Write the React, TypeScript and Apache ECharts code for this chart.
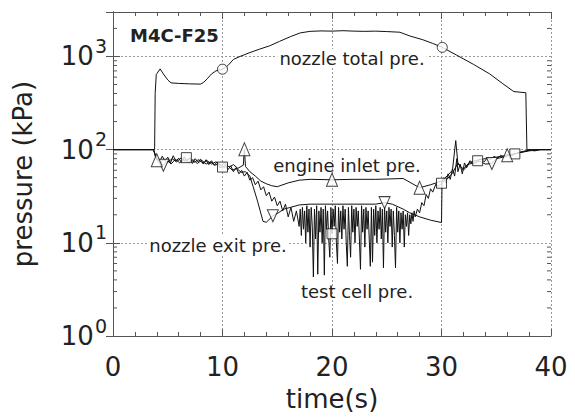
import React, { useEffect, useRef } from "react";
import * as echarts from "echarts";

// Time histories, [time (s), pressure (kPa)]
const nozzleTotal: number[][] = [
  [0, 100], [3.8, 100], [3.85, 400], [3.95, 640], [4.3, 735], [4.6, 650], [5.0, 560],
  [5.3, 520], [6, 514], [7, 508], [8, 505], [8.3, 530], [8.6, 575], [9.0, 650],
  [9.4, 700], [10.0, 730], [10.5, 800], [11.0, 930], [11.6, 1000], [12.5, 1100],
  [13.4, 1200], [14.3, 1300], [15.2, 1450], [16.2, 1630], [17.1, 1790], [18.0, 1860],
  [19, 1880], [20, 1870], [21, 1890], [22, 1870], [23, 1860], [24, 1870], [25, 1850],
  [26.2, 1820], [27.1, 1660], [28.3, 1510], [29.2, 1380], [30.07, 1253], [31.4, 1030],
  [32.9, 825], [34.4, 650], [35.6, 510], [36.6, 420], [37.7, 408], [37.8, 100], [40, 100],
];

const engineInlet: number[][] = [
  [0, 100], [3.7, 100], [4.0, 77], [4.3, 71], [4.6, 79], [5, 73], [5.4, 80], [5.8, 74],
  [6.2, 81], [6.6, 75], [7, 80], [7.4, 73], [7.8, 78], [8.2, 72], [8.6, 76], [9, 70],
  [9.4, 74], [9.8, 67], [10.2, 72], [10.6, 65], [11, 69], [11.4, 63], [11.9, 68],
  [12.0, 101], [12.1, 66], [12.5, 58], [13, 52], [13.5, 46], [14, 43], [14.5, 41],
  [15, 40], [16, 44], [17, 47], [18, 48], [20, 47.5], [22, 48], [24, 48], [26.5, 49],
  [28, 39], [29, 42], [30, 46], [30.5, 52], [31, 60], [31.3, 125], [31.5, 70], [32, 62],
  [32.5, 72], [33, 76], [34, 80], [35, 83], [36, 87], [37, 92], [38, 98], [39, 100],
  [40, 100],
];

const nozzleExit: number[][] = [
  [0, 100], [3.7, 100], [4.0, 80], [4.6, 68], [5, 76], [5.3, 70], [5.7, 79], [6.1, 72],
  [6.5, 80], [6.9, 73], [7.3, 78], [7.7, 71], [8.1, 77], [8.5, 70], [8.9, 74],
  [9.3, 68], [9.7, 71], [10.1, 64], [10.5, 67], [10.9, 60], [11.3, 63], [11.7, 57],
  [12.1, 58], [12.5, 52], [12.8, 40], [13.2, 28], [13.7, 17], [14, 16.6], [14.6, 19.5],
  [15.1, 21], [15.6, 23], [16.2, 24], [17, 25.5], [18, 26], [20, 26], [22, 26], [24, 26],
  [24.8, 27], [25.5, 26], [26.5, 23], [27.1, 21], [28, 19], [29, 17.5], [30, 16.5],
  [30.05, 45], [30.5, 48], [31, 56], [31.5, 72], [32, 60], [32.5, 70], [33, 72],
  [33.5, 75], [34, 70], [34.6, 71], [35, 80], [36, 85], [37, 92], [38, 97], [39, 100],
  [40, 100],
];

const testCell: number[][] = [
  [0, 100], [3.7, 100], [3.9, 82],
  [4.0, 82], [4.25, 74], [4.5, 85], [4.75, 76], [5.0, 83], [5.25, 72], [5.5, 86],
  [5.75, 75], [6.0, 81], [6.25, 73], [6.5, 84], [6.75, 76], [7.0, 82], [7.25, 71],
  [7.5, 80], [7.75, 74], [8.0, 79], [8.25, 70], [8.5, 78], [8.75, 69], [9.0, 76],
  [9.25, 68], [9.5, 74], [9.75, 64], [10.0, 65], [10.25, 69], [10.5, 61], [10.75, 67],
  [11.0, 58], [11.25, 64], [11.5, 55], [11.75, 60], [12.0, 52], [12.25, 57], [12.5, 47],
  [12.75, 50], [13.0, 42], [13.25, 46], [13.5, 37], [13.75, 40], [14.0, 32], [14.25, 35],
  [14.5, 28], [14.75, 31], [15.0, 25], [15.25, 28], [15.5, 22], [15.75, 26], [16.0, 19],
  [16.25, 24], [16.5, 17], [16.75, 22], [17.0, 15],
  [17.1, 23], [17.2, 12], [17.3, 24], [17.4, 14], [17.5, 22], [17.6, 10], [17.7, 25],
  [17.8, 13], [17.9, 23], [18.0, 9], [18.1, 24], [18.2, 15], [18.3, 4.3], [18.4, 23],
  [18.5, 11], [18.6, 25], [18.7, 4.6], [18.8, 22], [18.9, 13], [19.0, 24], [19.1, 10],
  [19.2, 23], [19.3, 4.5], [19.4, 25], [19.5, 14], [19.6, 22], [19.7, 11], [19.8, 7],
  [19.9, 24], [20.0, 12.5], [20.1, 23], [20.2, 15], [20.3, 25], [20.4, 10], [20.5, 6],
  [20.6, 24], [20.7, 13], [20.8, 22], [20.9, 11], [21.0, 25], [21.1, 14], [21.2, 23],
  [21.3, 10], [21.4, 5.6], [21.5, 24], [21.6, 12], [21.7, 7], [21.8, 25], [21.9, 13],
  [22.0, 23], [22.1, 10], [22.2, 24], [22.3, 15], [22.4, 22], [22.5, 11], [22.6, 5.2],
  [22.7, 25], [22.8, 13], [22.9, 23], [23.0, 9], [23.1, 24], [23.2, 14], [23.3, 22],
  [23.4, 11], [23.5, 5.6], [23.6, 24], [23.7, 6.2], [23.8, 23], [23.9, 12], [24.0, 25],
  [24.1, 10], [24.2, 22], [24.3, 14], [24.4, 24], [24.5, 11], [24.6, 23], [24.7, 5.4],
  [24.8, 25], [24.9, 13], [25.0, 22], [25.1, 10], [25.2, 24], [25.3, 15], [25.4, 23],
  [25.5, 9], [25.6, 22], [25.7, 12], [25.8, 5.4], [25.9, 24], [26.0, 13], [26.1, 22],
  [26.2, 10], [26.3, 21], [26.4, 14], [26.5, 22], [26.6, 9], [26.7, 20], [26.8, 15],
  [26.9, 21], [27.0, 12], [27.1, 20], [27.2, 16], [27.3, 21], [27.4, 17], [27.5, 22],
  [27.6, 19],
  [27.8, 23], [28.0, 21], [28.2, 27], [28.4, 25], [28.6, 33], [28.8, 30], [29.0, 38],
  [29.2, 35], [29.5, 43], [29.7, 40], [30.0, 43.6], [30.2, 50], [30.4, 44], [30.6, 55],
  [30.8, 48], [31.0, 62], [31.2, 52], [31.4, 80], [31.5, 58], [31.7, 70], [31.9, 55],
  [32.1, 72], [32.3, 64], [32.6, 76], [32.9, 70], [33.3, 76], [33.6, 80], [33.9, 74],
  [34.2, 82], [34.5, 78], [34.8, 85], [35.1, 80], [35.4, 87], [35.7, 83], [36.0, 89],
  [36.4, 86], [36.7, 90], [37.0, 93], [37.5, 96], [38.0, 99], [38.5, 97], [39, 100],
  [40, 100],
];

// Open symbols plotted on each trace
const nozzleTotalMarks: number[][] = [[10, 730], [30.07, 1253]];
const engineInletMarks: number[][] = [[4, 77], [12, 101], [20, 47.5], [28, 39], [36, 87]];
const nozzleExitMarks: number[][] = [[4.6, 68], [14.6, 19.5], [24.8, 27], [34.6, 71]];
const testCellMarks: number[][] = [[6.7, 82], [10, 65], [20, 12.5], [30, 43.6], [33.3, 76], [36.7, 90]];

// Logarithmic minor tick values on the pressure axis
const yMinorTicks: number[] = [
  2, 3, 4, 5, 6, 7, 8, 9,
  20, 30, 40, 50, 60, 70, 80, 90,
  200, 300, 400, 500, 600, 700, 800, 900,
  2000,
];

const FONT = "DejaVu Sans";
const INK = "#222";
const AXIS = "#555";

export default function App() {
  const ref = useRef<HTMLDivElement>(null);

  useEffect(() => {
    if (!ref.current) return;
    const chart = echarts.init(ref.current, null, { renderer: "svg" });

    const lineSeries = (data: number[][]) => ({
      type: "line",
      data,
      showSymbol: false,
      symbol: "none",
      lineStyle: { color: "#111", width: 1 },
      silent: true,
      z: 3,
    });

    const markSeries = (data: number[][], symbol: string, size: any, rotate = 0) => ({
      type: "scatter",
      data,
      symbol,
      symbolSize: size,
      symbolRotate: rotate,
      itemStyle: { color: "#fff", borderColor: "#111", borderWidth: 1 },
      silent: true,
      z: 4,
    });

    const gridDots = { color: "#999", width: 1, type: [2, 2] as any };

    chart.setOption({
      animation: false,
      backgroundColor: "#fff",
      grid: { left: 113, top: 12, right: 24, bottom: 74 },
      xAxis: [
        {
          type: "value",
          min: 0,
          max: 40,
          interval: 10,
          position: "bottom",
          axisLine: { show: true, lineStyle: { color: AXIS, width: 1 } },
          axisTick: { show: true, inside: true, length: 7, lineStyle: { color: AXIS } },
          minorTick: { show: true, splitNumber: 5, length: 4, lineStyle: { color: AXIS } },
          splitLine: { show: true, lineStyle: gridDots },
          axisLabel: { fontFamily: FONT, fontSize: 26, color: INK, margin: 18 },
          name: "time(s)",
          nameLocation: "middle",
          nameGap: 50,
          nameTextStyle: { fontFamily: FONT, fontSize: 26, color: INK },
        },
        {
          type: "value",
          min: 0,
          max: 40,
          interval: 10,
          position: "top",
          axisLine: { show: true, lineStyle: { color: AXIS, width: 1 } },
          axisTick: { show: true, inside: true, length: 7, lineStyle: { color: AXIS } },
          minorTick: { show: true, splitNumber: 5, length: 4, lineStyle: { color: AXIS } },
          splitLine: { show: false },
          axisLabel: { show: false },
        },
      ],
      yAxis: [
        {
          type: "log",
          logBase: 10,
          min: 1,
          max: 3000,
          position: "left",
          axisLine: { show: true, lineStyle: { color: AXIS, width: 1 } },
          axisTick: { show: true, inside: true, length: 7, lineStyle: { color: AXIS } },
          splitLine: { show: true, lineStyle: gridDots },
          axisLabel: {
            margin: 6,
            formatter: (v: number) => {
              const e = Math.log10(v);
              if (Math.abs(e - Math.round(e)) > 1e-6) return "";
              return `{b|10}{s|${Math.round(e)}}`;
            },
            rich: {
              b: { fontFamily: FONT, fontSize: 26, color: INK, lineHeight: 40, verticalAlign: "middle" },
              s: { fontFamily: FONT, fontSize: 19, color: INK, lineHeight: 19, verticalAlign: "top", padding: [0, 0, 0, 1] },
            },
          },
          name: "pressure (kPa)",
          nameLocation: "middle",
          nameGap: 77,
          nameTextStyle: { fontFamily: FONT, fontSize: 26, color: INK },
        },
        {
          type: "log",
          logBase: 10,
          min: 1,
          max: 3000,
          position: "right",
          axisLine: { show: true, lineStyle: { color: AXIS, width: 1 } },
          axisTick: { show: true, inside: true, length: 7, lineStyle: { color: AXIS } },
          splitLine: { show: false },
          axisLabel: { show: false },
        },
      ],
      series: [
        {
          type: "custom",
          xAxisIndex: 0,
          yAxisIndex: 0,
          silent: true,
          z: 1,
          data: yMinorTicks.map((v) => [0, v]),
          renderItem: (_p: any, api: any) => {
            const v = api.value(1);
            const l = api.coord([0, v]);
            const r = api.coord([40, v]);
            const st = { stroke: AXIS, lineWidth: 1 };
            return {
              type: "group",
              children: [
                { type: "line", shape: { x1: l[0], y1: l[1], x2: l[0] + 4, y2: l[1] }, style: st },
                { type: "line", shape: { x1: r[0] - 4, y1: r[1], x2: r[0], y2: r[1] }, style: st },
              ],
            };
          },
        },
        lineSeries(testCell),
        lineSeries(nozzleExit),
        lineSeries(engineInlet),
        lineSeries(nozzleTotal),
        markSeries(testCellMarks, "rect", 10),
        markSeries(nozzleExitMarks, "triangle", [11, 12], 180),
        markSeries(engineInletMarks, "triangle", [11, 13]),
        markSeries(nozzleTotalMarks, "circle", 10),
      ],
      graphic: [
        {
          type: "text",
          z: 50,
          style: { text: "M4C-F25", x: 130, y: 35, font: `bold 18px "${FONT}"`, fill: INK, align: "left", verticalAlign: "middle" },
        },
        {
          type: "text",
          z: 50,
          style: { text: "nozzle total pre.", x: 352, y: 58, font: `18px "${FONT}"`, fill: INK, align: "center", verticalAlign: "middle", backgroundColor: "#fff", padding: [0, 2] },
        },
        {
          type: "text",
          z: 50,
          style: { text: "engine inlet pre.", x: 347, y: 165, font: `18px "${FONT}"`, fill: INK, align: "center", verticalAlign: "middle" },
        },
        {
          type: "text",
          z: 50,
          style: { text: "nozzle exit pre.", x: 218, y: 245, font: `18px "${FONT}"`, fill: INK, align: "center", verticalAlign: "middle", backgroundColor: "#fff", padding: [0, 2] },
        },
        {
          type: "text",
          z: 50,
          style: { text: "test cell pre.", x: 357, y: 291, font: `18px "${FONT}"`, fill: INK, align: "center", verticalAlign: "middle" },
        },
      ],
    });

    return () => chart.dispose();
  }, []);

  return (
    <div
      ref={ref}
      style={{ position: "fixed", left: 0, top: 0, width: 575, height: 417, background: "#fff" }}
    />
  );
}
